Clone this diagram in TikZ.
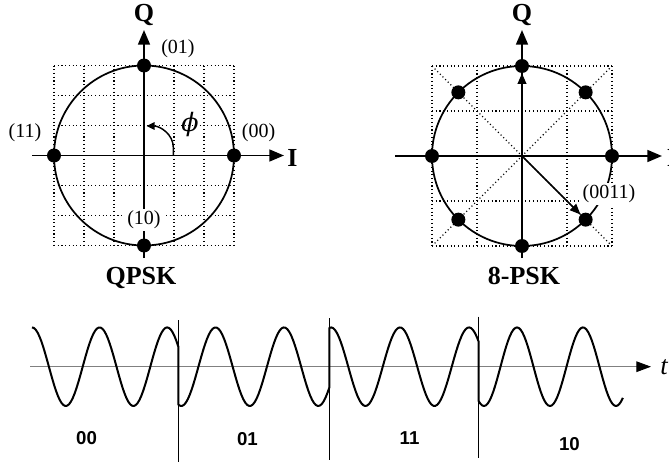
\documentclass[tikz,border=0pt]{standalone}
\usepackage{fontspec}
\setmainfont{Liberation Serif}
\newfontfamily\lsans{Liberation Sans}
\newfontfamily\dvserif{DejaVu Serif}
\usetikzlibrary{arrows.meta}
\begin{document}
\begin{tikzpicture}[x=0.75pt,y=-0.75pt,
  ax/.style={line width=1.3pt,-{Triangle[length=11pt,width=9pt]}},
  grd/.style={dotted,line width=0.8pt},
  crc/.style={line width=1.3pt},
  dot/.style={circle,fill=black,inner sep=0pt,minimum size=10.5pt},
  lab/.style={font=\fontsize{15}{15}\selectfont,inner sep=0pt},
  big/.style={font=\bfseries\fontsize{19.5}{20}\selectfont,inner sep=0pt},
  bits/.style={font=\lsans\bfseries\fontsize{14}{14}\selectfont,inner sep=0pt},
  wave/.style={line width=1.5pt,line join=round},
  sep/.style={line width=0.9pt},
]
\useasboundingbox (0,0) rectangle (669,464);

% ---------------- QPSK ----------------
\coordinate (c4) at (144,155.5);
\foreach \i in {-90,-60,...,90}{
  \draw[grd] (144+\i,65.5) -- (144+\i,245.5);
  \draw[grd] (54,155.5+\i) -- (234,155.5+\i);
}
\draw[crc] (c4) circle[radius=90];
\coordinate (h4a) at (32,155.5);
\coordinate (h4b) at (284,155.5);
\coordinate (v4a) at (144,258);
\coordinate (v4b) at (144,30);
\draw[ax] (h4a) -- (h4b);
\draw[ax] (v4a) -- (v4b);
\node[dot] (q00) at (234,155.5) {};
\node[dot] (q01) at (144,65.5) {};
\node[dot] (q11) at (54,155.5) {};
\node[dot] (q10) at (144,245.5) {};
\node[lab] (l01) at (178,48.5) {(01)};
\node[lab] (l11) at (25,133) {(11)};
\node[lab] (l00) at (258.5,133) {(00)};
\node[lab,fill=white,inner sep=1.5pt] (l10) at (144,220) {(10)};
\node[big,anchor=base] (qQ) at (144,21.5) {Q};
\node[big,anchor=base] (qI) at (292.5,166) {I};
\node[big,anchor=base] (qname) at (141,284.6) {QPSK};
\coordinate (pa) at (173.3,155.5);
\coordinate (pb) at (146.5,126);
\draw[line width=1.1pt,-{Triangle[length=6pt,width=5.5pt]}] (pa) -- ++(0,-8) to[out=90,in=0] (pb);
\node[font=\dvserif\itshape\fontsize{19}{19}\selectfont] (phi) at (190,125) {ϕ};

% ---------------- 8-PSK ----------------
\coordinate (c8) at (522,156);
\foreach \i in {-90,-45,...,90}{
  \draw[grd] (522+\i,66) -- (522+\i,246);
  \draw[grd] (432,156+\i) -- (612,156+\i);
}
\draw[grd] (432,66) -- (612,246);
\draw[grd] (432,246) -- (612,66);
\draw[crc] (c8) circle[radius=90];
\coordinate (h8a) at (395,156);
\coordinate (h8b) at (662,156);
\coordinate (v8a) at (522,258);
\coordinate (v8b) at (522,30);
\draw[ax] (h8a) -- (h8b);
\draw[ax] (v8a) -- (v8b);
\foreach \a in {0,45,...,315}{
  \node[dot] (e\a) at ({522+90*cos(\a)},{156-90*sin(\a)}) {};
}
\draw[line width=1.3pt,-{Triangle[length=8pt,width=6.5pt]}] (c8) -- (e90);
\draw[line width=1.3pt,-{Triangle[length=8pt,width=6.5pt]}] (c8) -- (e315);
\node[lab,fill=white,inner sep=1.5pt] (l0011) at (609,194) {(0011)};
\node[big,anchor=base] (eQ) at (522,21.5) {Q};
\node[big,anchor=base] (eI) at (672,166) {I};
\node[big,anchor=base] (ename) at (524,284.6) {8-PSK};

% ---------------- waveform ----------------
\coordinate (ta) at (30,366.7);
\coordinate (tb) at (651,366.7);
\draw[gray,line width=0.7pt,-{Triangle[length=11pt,width=8pt,color=black]}] (ta) -- (tb);
\node[font=\itshape\fontsize{20}{20}\selectfont] (tlab) at (664,367) {t};
\draw[wave,variable=\x,samples=80]
  plot[domain=32:178.3] (\x,{366.7-39.3*cos((\x-32)*5.3254)})
  -- plot[domain=178.3:329.4] (\x,{366.7+39.3*cos((\x-181.3)*5.2555)})
  -- plot[domain=329.4:478.7] (\x,{366.7-39.3*cos((\x-331)*5.2174)})
  -- plot[domain=478.7:622.9] (\x,{366.7+39.3*cos((\x-484)*5.4545)});
\coordinate (s1a) at (178.3,320);
\coordinate (s1b) at (178.3,461.7);
\coordinate (s2a) at (329.4,318.3);
\coordinate (s2b) at (329.4,460);
\coordinate (s3a) at (478.7,316.7);
\coordinate (s3b) at (478.7,458.3);
\draw[sep] (s1a) -- (s1b);
\draw[sep] (s2a) -- (s2b);
\draw[sep] (s3a) -- (s3b);
\node[bits] (b1) at (86.6,438.3) {00};
\node[bits] (b2) at (247.4,439.3) {01};
\node[bits] (b3) at (409.6,438) {11};
\node[bits] (b4) at (569.5,444) {10};
\end{tikzpicture}
\end{document}
